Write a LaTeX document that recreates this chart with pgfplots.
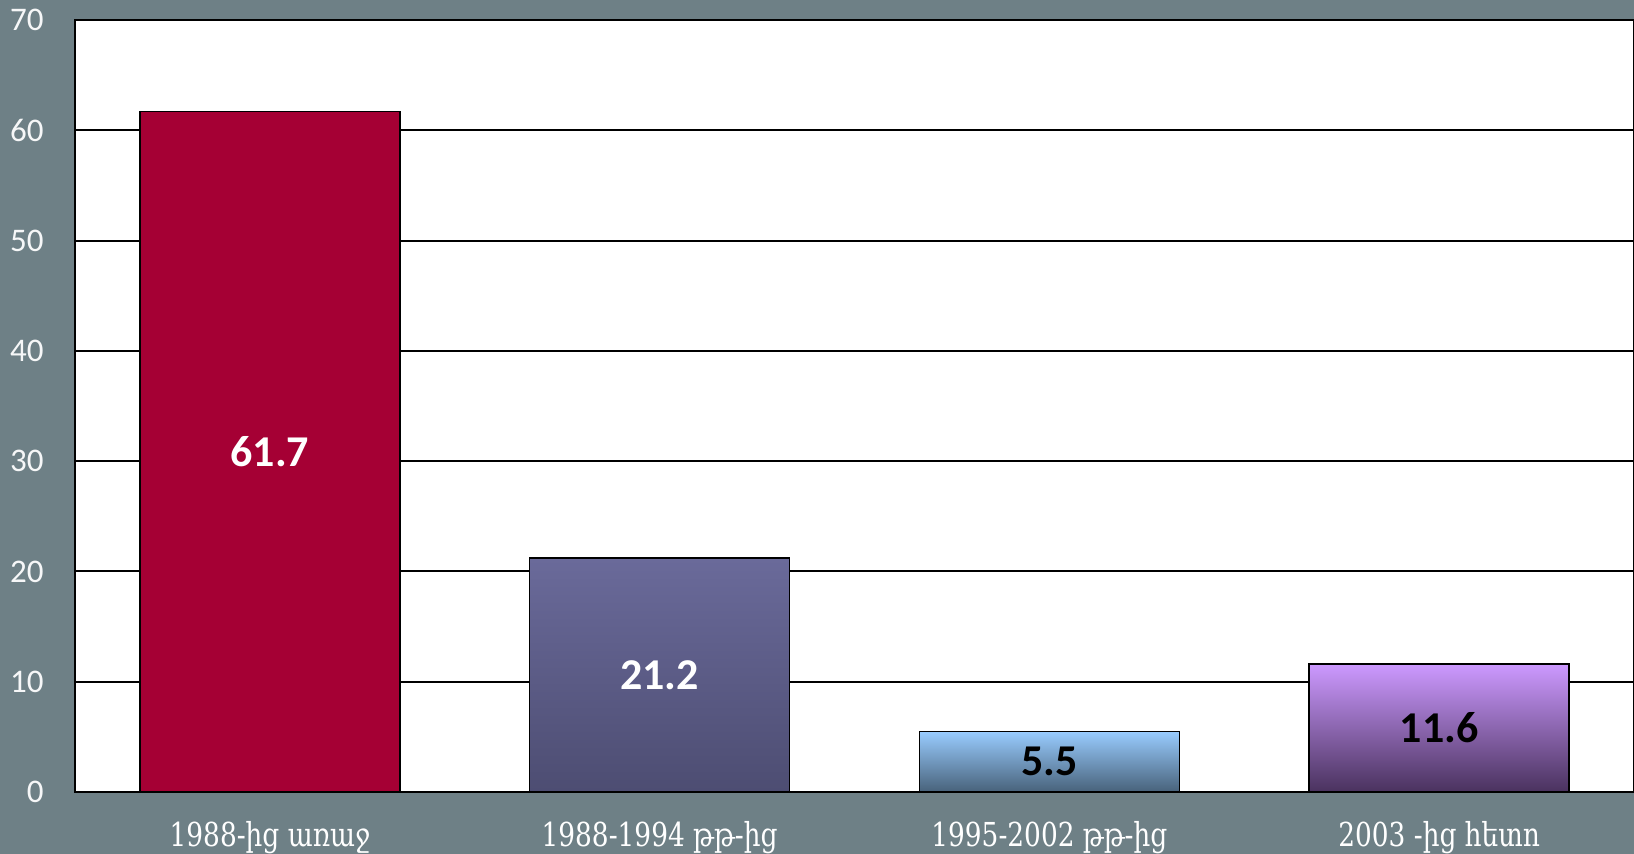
\documentclass[border=0pt]{standalone}
\usepackage{pgfplots}
\pgfplotsset{compat=1.18}
\usepackage{fontspec}
\setmainfont{Carlito}
\newfontfamily\armfont[FakeStretch=0.8]{DejaVu Serif}
\definecolor{bg}{RGB}{110,128,134}
\definecolor{barA}{RGB}{165,0,52}
\definecolor{barBt}{RGB}{106,106,154}
\definecolor{barBb}{RGB}{77,77,114}
\definecolor{barCt}{RGB}{153,204,255}
\definecolor{barCb}{RGB}{72,98,122}
\definecolor{barDt}{RGB}{204,153,255}
\definecolor{barDb}{RGB}{74,50,94}
\begin{document}
\begin{tikzpicture}
\fill[bg] (0,0) rectangle (817pt,427pt);
\useasboundingbox (0,0) rectangle (817pt,427pt);
\begin{axis}[
  at={(37.5pt,31pt)}, anchor=south west,
  width=779.5pt, height=386pt, scale only axis,
  xmin=-0.5, xmax=3.5, ymin=0, ymax=70,
  ytick={0,10,...,70}, xtick={0,1,2,3},
  xticklabels={{1988-ից առաջ}, {1988-1994 թթ-ից}, {1995-2002 թթ-ից}, {2003 -ից հետո}},
  ymajorgrids, grid style={black, line width=1pt},
  axis line style={black, line width=1.2pt},
  major tick length=0pt,
  axis background/.style={fill=white},
  /pgf/number format/assume math mode=true,
  yticklabel style={font=\fontsize{16.5}{18}\selectfont, text=white!94!bg, anchor=east, inner sep=0pt, xshift=-15.5pt},
  xticklabel style={font=\armfont\fontsize{16.5}{18}\selectfont, text=white, anchor=base, inner sep=0pt, yshift=-27.5pt},
  ybar, bar width=0.667, bar shift=0pt,
  visualization depends on={rawy*386/140 \as \halfh},
  vlab/.style={nodes near coords, every node near coord/.append style={font=\fontsize{22}{24}\selectfont\bfseries, anchor=center, yshift={-\halfh*1pt}, text=#1}},
]
\addplot[draw=black, line width=0.8pt, fill=barA, vlab=white] coordinates {(0,61.7)};
\addplot[draw=black, line width=0.8pt, top color=barBt, bottom color=barBb, vlab=white] coordinates {(1,21.2)};
\addplot[draw=black, line width=0.8pt, top color=barCt, bottom color=barCb, vlab=black] coordinates {(2,5.5)};
\addplot[draw=black, line width=0.8pt, top color=barDt, bottom color=barDb, vlab=black] coordinates {(3,11.6)};
\end{axis}
\end{tikzpicture}
\end{document}
